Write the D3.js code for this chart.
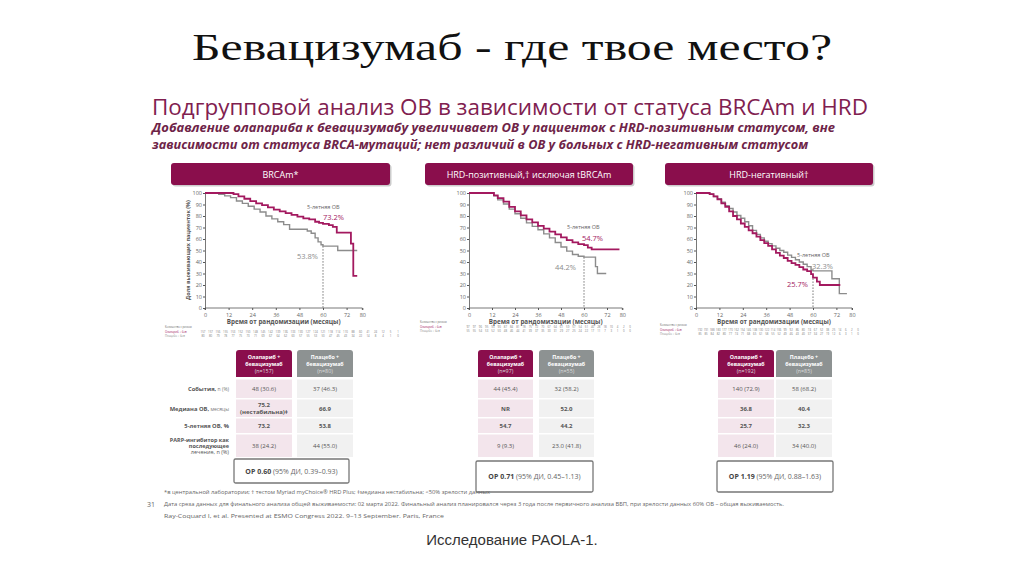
<!DOCTYPE html>
<html>
<head>
<meta charset="utf-8">
<script src="https://cdn.jsdelivr.net/npm/d3@7"></script>
<style>
  body { margin: 0; background: #fff; }
  svg { display: block; font-family: "Open Sans", "Liberation Sans", sans-serif; }
</style>
</head>
<body>
<svg></svg>
<script>
// ---- data ----
const panelTitles = ["BRCAm*", "HRD-позитивный,† исключая tBRCAm", "HRD-негативный†"];
const xTicks = [0, 12, 24, 36, 48, 60, 72, 80];
const yTicks = [0, 10, 20, 30, 40, 50, 60, 70, 80, 90, 100];

// KM curves: [month, % alive]
const olaBRCA = [[0,100],[6,100],[12,100],[14.5,99],[17,97],[20,95],[23,93],[26,91],[29,89.5],[32,87.5],[35,85.5],[38,84],[41,82.5],[44,81],[47,79.5],[50,78],[53,77],[56,75],[58,74],[60,73.2],[63,72],[65,70.5],[67,65.5],[74,65.5],[74.2,56],[75.3,56],[75.4,28],[77.4,28]];
const pboBRCA = [[0,100],[5,100],[7,98.8],[10,97.5],[13,96],[16,93],[19,91],[22,88.5],[25,86],[28,83.5],[31,80],[34,77.5],[37,75],[40,72.5],[43,68.5],[50,68.5],[52,67],[54,65],[56,61],[57.5,57.5],[59,55],[60,53.8],[67,53.8],[67.5,50],[77.4,50]];
const olaHRDp = [[0,100],[11,100],[13,98],[15,95.5],[18,92.5],[21,88],[24,84],[27,80.5],[30,77],[33,74.5],[36,71.5],[39,69],[42,66.5],[45,64],[48,61.5],[51,59],[54,57],[57,55.5],[60,54.7],[62,52.5],[64,51],[78.5,51]];
const pboHRDp = [[0,100],[11,100],[13,97.5],[15,94],[18,90.5],[21,86],[24,82],[27,78],[30,74],[33,71],[36,68],[39,64.5],[42,61],[45,57],[48,53],[51,49.5],[54,46.5],[57,45],[60,44.2],[65.5,44.2],[66,36],[67,30],[71.6,30]];
const olaHRDn = [[0,100],[5,100],[7,99],[9,97],[11,94.5],[13,91],[15,88],[17,84],[19,80],[21,77],[23,73.5],[25,70.5],[27,67.5],[29,65],[31,62],[33,59],[35,56.5],[37,54],[39,51],[41,48],[43,45.5],[45,43.5],[47,41],[49,39],[51,37.5],[53,35.5],[55,33.5],[57,32],[59,29.5],[60,26.5],[62,23],[63.5,20],[74,20]];
const pboHRDn = [[0,100],[5,100],[7,99],[9,97],[11,95],[13,92],[15,89],[17,86.5],[19,83.5],[21,80.5],[23,78],[25,75],[27,71.5],[29,67.5],[31,64],[33,61],[35,58],[37,56],[39,54],[41,52],[43,50],[45,48.5],[47,46],[49,44],[51,42],[53,40],[55,38],[57,36],[59,33],[60,32.3],[69.7,32.3],[69.7,25.5],[73.5,25.5],[73.5,12.5],[77.4,12.5]];

const fiveYearOla = [73.2, 54.7, 25.7];
const fiveYearPbo = [53.8, 44.2, 32.3];

// number at risk (tiny, estimated)
const riskOla = [
  [157,157,156,155,153,152,150,148,145,142,139,136,133,130,127,124,121,118,114,110,88,60,41,24,12,5,1],
  [97,97,96,95,93,90,87,84,81,78,75,72,70,67,64,61,59,57,54,51,40,28,18,10,4,2,0],
  [192,191,188,183,177,170,162,154,146,138,130,122,114,106,99,92,86,80,74,67,52,38,25,14,6,2,0]
];
const riskPbo = [
  [80,80,79,78,77,75,73,71,69,67,64,62,60,57,55,53,50,47,45,43,34,22,14,8,4,1,0],
  [55,55,54,53,52,50,48,46,44,41,39,37,35,33,31,29,27,25,24,22,17,11,7,3,1,0,0],
  [85,85,84,82,80,77,74,71,68,65,61,58,55,52,49,46,43,40,37,34,27,19,12,6,3,1,0]
];

const rowLabels = [["События,", " n (%)"], ["Медиана ОВ,", " месяцы"], ["5-летняя ОВ, %", ""], ["PARP-ингибитор как", "последующее", "лечение, n (%)"]];
const headOla = ["(n=157)", "(n=97)", "(n=192)"];
const headPbo = ["(n=80)", "(n=55)", "(n=85)"];
const cellsOla = [
  ["48 (30.6)", "75.2|(нестабильна)‡", "73.2", "38 (24.2)"],
  ["44 (45.4)", "NR", "54.7", "9 (9.3)"],
  ["140 (72.9)", "36.8", "25.7", "46 (24.0)"]
];
const cellsPbo = [
  ["37 (46.3)", "66.9", "53.8", "44 (55.0)"],
  ["32 (58.2)", "52.0", "44.2", "23.0 (41.8)"],
  ["58 (68.2)", "40.4", "32.3", "34 (40.0)"]
];
const hazard = [["ОР 0.60", " (95% ДИ, 0.39–0.93)"], ["ОР 0.71", " (95% ДИ, 0.45–1.13)"], ["ОР 1.19", " (95% ДИ, 0.88–1.63)"]];

const curvesOla = [olaBRCA, olaHRDp, olaHRDn];
const curvesPbo = [pboBRCA, pboHRDp, pboHRDn];

// ---- layout ----
const width = 1024, height = 574;
const maroon = "#8a0e4c", magenta = "#a3195f", grey = "#8c8c8c";

const svg = d3.select("svg").attr("width", width).attr("height", height);

// slide title
svg.append("text")
  .attr("x", 512).attr("y", 60)
  .attr("text-anchor", "middle")
  .attr("font-family", "Liberation Serif, serif")
  .attr("font-size", 37)
  .attr("textLength", 640).attr("lengthAdjust", "spacingAndGlyphs")
  .attr("fill", "#111")
  .text("Бевацизумаб - где твое место?");

// inner slide heading
svg.append("text")
  .attr("x", 152).attr("y", 115)
  .attr("font-size", 21.5)
  .attr("textLength", 716).attr("lengthAdjust", "spacingAndGlyphs")
  .attr("fill", "#80204f")
  .text("Подгрупповой анализ ОВ в зависимости от статуса BRCAm и HRD");

const sub = [
  ["Добавление олапариба к бевацизумабу увеличивает ОВ у пациенток с HRD-позитивным статусом, вне", 683, 132],
  ["зависимости от статуса BRCA-мутаций; нет различий в ОВ у больных с HRD-негативным статусом", 656, 149]
];
sub.forEach(s => {
  svg.append("text")
    .attr("x", 152).attr("y", s[2])
    .attr("font-size", 12.5)
    .attr("font-weight", "bold").attr("font-style", "italic")
    .attr("textLength", s[1]).attr("lengthAdjust", "spacingAndGlyphs")
    .attr("fill", "#6e2448")
    .text(s[0]);
});

const panels = [
  { bx: 171, bw: 219, x0: 205, x60: 323, risk: [165, 203, 398, 328] , yt: true },
  { bx: 425, bw: 208, x0: 469, x60: 584, risk: [420, 468, 630, 323] , yt: false },
  { bx: 665, bw: 208, x0: 696, x60: 813, risk: [660, 700, 858, 326] , yt: false }
];
const tables = [
  { c1: 236, c2: 297, cw: 56, box: [234, 459, 115, 24] },
  { c1: 478, c2: 539, cw: 55, box: [476, 461, 117, 31] },
  { c1: 718, c2: 776, cw: 56, box: [717, 461, 116, 31] }
];
const rowY = [379, 399, 418, 434, 458];
const labPos = [
  [[307, 209], [323, 220], [297, 259]],
  [[567, 229], [582, 241], [555, 270]],
  [[797, 257], [812, 269], [787, 287]]
];

panels.forEach((p, i) => {
  const g = svg.append("g");

  // header bar
  g.append("rect")
    .attr("x", p.bx + 1.5).attr("y", 164.5).attr("width", p.bw).attr("height", 22)
    .attr("rx", 3).attr("fill", "#ccc");
  g.append("rect")
    .attr("x", p.bx).attr("y", 163).attr("width", p.bw).attr("height", 22)
    .attr("rx", 3).attr("fill", maroon);
  g.append("text")
    .attr("x", p.bx + p.bw / 2).attr("y", 177.5)
    .attr("text-anchor", "middle").attr("font-size", 9)
    .attr("fill", "#fff")
    .text(panelTitles[i]);

  const x = d3.scaleLinear().domain([0, 60]).range([p.x0, p.x60]);
  const y = d3.scaleLinear().domain([0, 100]).range([308, 193]);

  // axes
  const ax = g.append("g").attr("transform", `translate(${p.x0},0)`)
    .call(d3.axisLeft(y).tickValues(yTicks).tickSize(2).tickPadding(1));
  const bx = g.append("g").attr("transform", "translate(0,308)")
    .call(d3.axisBottom(x).tickValues(xTicks).tickSize(2).tickPadding(3));
  [ax, bx].forEach(a => {
    a.select(".domain").attr("stroke", "#555").attr("stroke-width", 0.8);
    a.selectAll(".tick line").attr("stroke", "#555");
    a.selectAll("text").attr("font-size", 5.5).attr("fill", "#666").attr("font-family", "Open Sans, sans-serif");
  });
  // extend x axis domain to 80
  bx.select(".domain").attr("d", `M${p.x0},2V0H${x(80)}V2`);

  g.append("text")
    .attr("x", (p.x0 + x(80)) / 2).attr("y", 324)
    .attr("text-anchor", "middle").attr("font-size", 6.3).attr("font-weight", "bold")
    .attr("fill", "#555")
    .text("Время от рандомизации (месяцы)");

  if (p.yt) {
    g.append("text")
      .attr("transform", `translate(190,250) rotate(-90)`)
      .attr("text-anchor", "middle").attr("font-size", 5.5).attr("font-weight", "bold")
      .attr("fill", "#555")
      .text("Доля выживающих пациенток (%)");
  }

  const line = d3.line().x(d => x(d[0])).y(d => y(d[1])).curve(d3.curveStepAfter);

  // 5-year reference line
  g.append("line")
    .attr("x1", x(60)).attr("x2", x(60))
    .attr("y1", y(Math.min(fiveYearOla[i], fiveYearPbo[i])))
    .attr("y2", y(0))
    .attr("stroke", "#777").attr("stroke-width", 1)
    .attr("stroke-dasharray", "1.5,1.5");

  g.append("path").datum(curvesPbo[i])
    .attr("fill", "none").attr("stroke", grey).attr("stroke-width", 1.4)
    .attr("d", line);
  g.append("path").datum(curvesOla[i])
    .attr("fill", "none").attr("stroke", magenta).attr("stroke-width", 1.8)
    .attr("d", line);

  // labels
  const lp = labPos[i];
  g.append("text").attr("x", lp[0][0]).attr("y", lp[0][1])
    .attr("font-size", 5.5).attr("fill", "#666").text("5-летняя ОВ");
  g.append("text").attr("x", lp[1][0]).attr("y", lp[1][1])
    .attr("font-size", 7.5).attr("fill", i === 2 ? grey : magenta)
    .text((i === 2 ? fiveYearPbo[i] : fiveYearOla[i]).toFixed(1) + "%");
  g.append("text").attr("x", lp[2][0]).attr("y", lp[2][1])
    .attr("font-size", 7.5).attr("fill", i === 2 ? magenta : grey)
    .text((i === 2 ? fiveYearOla[i] : fiveYearPbo[i]).toFixed(1) + "%");

  // number at risk
  const r = p.risk;
  g.append("text").attr("x", r[0]).attr("y", r[3]).attr("font-size", 2.6).attr("fill", "#666")
    .text("Количество с риском");
  const rx = d3.scalePoint().domain(d3.range(riskOla[i].length)).range([r[1], r[2]]);
  [[riskOla[i], magenta, "Олапариб + бев"], [riskPbo[i], grey, "Плацебо + бев"]].forEach((row, k) => {
    const yy = r[3] + 4.5 + k * 4.5;
    g.append("text").attr("x", r[0]).attr("y", yy).attr("font-size", 2.8).attr("fill", row[1])
      .text(row[2]);
    g.selectAll(null).data(row[0]).join("text")
      .attr("x", (d, j) => rx(j)).attr("y", yy)
      .attr("text-anchor", "middle").attr("font-size", 2.8).attr("fill", "#777")
      .text(d => d);
  });

  // table
  const t = tables[i];
  [[t.c1, maroon, "Олапариб +", headOla[i]], [t.c2, "#8d9292", "Плацебо +", headPbo[i]]].forEach(h => {
    g.append("path")
      .attr("d", `M${h[0]},377V353q0,-3 3,-3H${h[0] + t.cw - 3}q3,0 3,3V377Z`)
      .attr("fill", h[1]);
    [h[2], "бевацизумаб", h[3]].forEach((s, k) => {
      g.append("text").attr("x", h[0] + t.cw / 2).attr("y", 359 + k * 7)
        .attr("text-anchor", "middle").attr("font-size", 5.3)
        .attr("font-weight", k < 2 ? "bold" : "normal")
        .attr("fill", k < 2 ? "#fff" : "#ddd")
        .text(s);
    });
  });
  [[t.c1, "#f3e5ec", cellsOla[i]], [t.c2, "#f1f1f1", cellsPbo[i]]].forEach(c => {
    c[2].forEach((val, k) => {
      g.append("rect").attr("x", c[0]).attr("y", rowY[k] + 0.5)
        .attr("width", t.cw).attr("height", rowY[k + 1] - rowY[k] - 1.5)
        .attr("fill", c[1]);
      const parts = val.split("|");
      const bold = k === 1 || k === 2;
      const cy = (rowY[k] + rowY[k + 1]) / 2;
      parts.forEach((s, m) => {
        g.append("text").attr("x", c[0] + t.cw / 2)
          .attr("y", cy + 2 + (m - (parts.length - 1) / 2) * 7)
          .attr("text-anchor", "middle").attr("font-size", 6)
          .attr("font-weight", bold ? "bold" : "normal")
          .attr("fill", "#555")
          .text(s);
      });
    });
  });
  // hazard ratio box
  g.append("rect").attr("x", t.box[0]).attr("y", t.box[1]).attr("width", t.box[2]).attr("height", t.box[3])
    .attr("fill", "#fff").attr("stroke", "#777").attr("stroke-width", 1.3).attr("rx", 1.5);
  const ht = g.append("text").attr("x", t.box[0] + t.box[2] / 2).attr("y", t.box[1] + t.box[3] / 2 + 2.5)
    .attr("text-anchor", "middle").attr("font-size", 7).attr("fill", "#444");
  ht.append("tspan").attr("font-weight", "bold").text(hazard[i][0]);
  ht.append("tspan").attr("fill", "#666").text(hazard[i][1]);
});

// row labels for first table
rowLabels.forEach((lab, k) => {
  const cy = (rowY[k] + rowY[k + 1]) / 2;
  if (k < 3) {
    const tx = svg.append("text").attr("x", 229).attr("y", cy + 2)
      .attr("text-anchor", "end").attr("font-size", 5.8).attr("fill", "#555");
    tx.append("tspan").attr("font-weight", "bold").text(lab[0]);
    tx.append("tspan").attr("font-size", 5).attr("fill", "#777").text(lab[1]);
  } else {
    lab.forEach((s, m) => {
      svg.append("text").attr("x", 229).attr("y", cy - 4 + m * 6)
        .attr("text-anchor", "end").attr("font-size", 5.5)
        .attr("font-weight", m < 2 ? "bold" : "normal").attr("fill", "#555")
        .text(s);
    });
  }
});

// footnotes
const notes = [
  ["*в центральной лаборатории; † тестом Myriad myChoice® HRD Plus; ‡медиана нестабильна; <50% зрелости данных", 164, 494, 326],
  ["Дата среза данных для финального анализа общей выживаемости: 02 марта 2022. Финальный анализ планировался через 3 года после первичного анализа ВБП, при зрелости данных 60% ОВ – общая выживаемость.", 164, 506, 620],
  ["Ray-Coquard I, et al. Presented at ESMO Congress 2022. 9–13 September. Paris, France", 164, 518, 280]
];
notes.forEach(n => {
  svg.append("text").attr("x", n[1]).attr("y", n[2])
    .attr("font-size", 5).attr("fill", "#666")
    .attr("textLength", n[3]).attr("lengthAdjust", "spacingAndGlyphs")
    .text(n[0]);
});
svg.append("text").attr("x", 147).attr("y", 507).attr("font-size", 7).attr("fill", "#666").text("31");

svg.append("text")
  .attr("x", 512).attr("y", 545)
  .attr("text-anchor", "middle")
  .attr("font-family", "Liberation Sans, Arial, sans-serif")
  .attr("font-size", 15).attr("fill", "#333")
  .text("Исследование PAOLA-1.");
</script>
</body>
</html>
